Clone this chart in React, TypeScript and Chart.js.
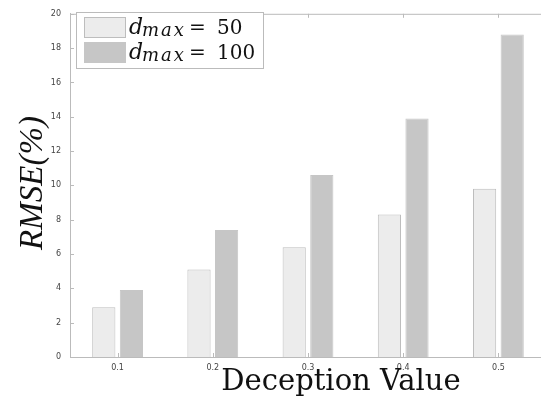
import React, { useEffect, useRef } from "react";
import { Chart, registerables } from "chart.js";

Chart.register(...registerables);

const categories = ["0.1", "0.2", "0.3", "0.4", "0.5"];
const seriesD50 = [2.9, 5.1, 6.4, 8.3, 9.8];
const seriesD100 = [3.9, 7.4, 10.6, 13.9, 18.8];
const legendLabels = ["50", "100"];
const yTitle = "RMSE(%)";
const xTitle = "Deception Value";

const LIGHT = "#ececec";
const LIGHT_BORDER = "#bdbdbd";
const DARK = "#c6c6c6";
const AXIS = "#bbbbbb";

const decorPlugin = {
  id: "decor",
  afterDraw(chart: any) {
    const { ctx, chartArea } = chart;
    const { left, right, top, bottom } = chartArea;
    ctx.save();
    // box lines
    ctx.strokeStyle = AXIS;
    ctx.lineWidth = 1;
    ctx.beginPath();
    ctx.moveTo(left + 0.5, top + 0.5);
    ctx.lineTo(right, top + 0.5);
    ctx.moveTo(right - 0.5, top);
    ctx.lineTo(right - 0.5, bottom);
    ctx.stroke();
    // inward ticks
    const ys = chart.scales.y;
    const xs = chart.scales.x;
    ctx.beginPath();
    ys.ticks.forEach((t: any) => {
      const py = Math.round(ys.getPixelForValue(t.value)) + 0.5;
      ctx.moveTo(left, py);
      ctx.lineTo(left + 4, py);
    });
    categories.forEach((_, i) => {
      const px = Math.round(xs.getPixelForValue(i)) + 0.5;
      ctx.moveTo(px, bottom);
      ctx.lineTo(px, bottom - 4);
      ctx.moveTo(px, top);
      ctx.lineTo(px, top + 4);
    });
    ctx.stroke();

    // legend
    const lx = 76, ly = 12, lw = 187, lh = 56;
    ctx.fillStyle = "#ffffff";
    ctx.fillRect(lx, ly, lw, lh);
    ctx.strokeStyle = AXIS;
    ctx.strokeRect(lx + 0.5, ly + 0.5, lw, lh);
    const rows = [
      { fill: LIGHT, border: LIGHT_BORDER, label: legendLabels[0], y: 17 },
      { fill: DARK, border: DARK, label: legendLabels[1], y: 42 },
    ];
    rows.forEach((r) => {
      ctx.fillStyle = r.fill;
      ctx.fillRect(84, r.y, 41, 20);
      ctx.strokeStyle = r.border;
      ctx.strokeRect(84.5, r.y + 0.5, 41, 20);
      const base = r.y + 17;
      ctx.fillStyle = "#111";
      ctx.textBaseline = "alphabetic";
      ctx.textAlign = "left";
      ctx.font = "italic 22px 'DejaVu Serif', serif";
      (ctx as any).letterSpacing = "0px";
      ctx.fillText("d", 129, base);
      ctx.font = "italic 18px 'DejaVu Serif', serif";
      (ctx as any).letterSpacing = "2px";
      ctx.fillText("max", 142, base + 2);
      (ctx as any).letterSpacing = "0px";
      ctx.font = "20px 'DejaVu Serif', serif";
      ctx.fillText("=", 189, base);
      ctx.fillText(r.label, 217, base);
    });

    // axis titles
    ctx.fillStyle = "#111";
    ctx.font = "29px 'DejaVu Serif', serif";
    ctx.textAlign = "center";
    ctx.textBaseline = "alphabetic";
    ctx.fillText(xTitle, 341, 390);
    ctx.save();
    ctx.translate(42, 183);
    ctx.rotate(-Math.PI / 2);
    ctx.font = "italic 33px 'Liberation Serif', serif";
    ctx.fillText(yTitle, 0, 0);
    ctx.restore();
    ctx.restore();
  },
};

export default function App() {
  const ref = useRef<HTMLCanvasElement>(null);
  useEffect(() => {
    if (!ref.current) return;
    const chart = new Chart(ref.current, {
      type: "bar",
      data: {
        labels: categories,
        datasets: [
          {
            label: "d_max = 50",
            data: seriesD50,
            backgroundColor: LIGHT,
            borderColor: LIGHT_BORDER,
            borderWidth: 1,
            barPercentage: 0.84,
            categoryPercentage: 0.58,
          },
          {
            label: "d_max = 100",
            data: seriesD100,
            backgroundColor: DARK,
            borderColor: DARK,
            borderWidth: 1,
            barPercentage: 0.84,
            categoryPercentage: 0.58,
          },
        ],
      },
      options: {
        animation: false,
        responsive: false,
        maintainAspectRatio: false,
        layout: { padding: { left: 0, top: 10, right: 14, bottom: 0 } },
        plugins: { legend: { display: false }, tooltip: { enabled: false } },
        scales: {
          x: {
            grid: { display: false, drawTicks: false },
            border: { color: AXIS },
            ticks: {
              color: "#444",
              font: { size: 8, family: "'DejaVu Sans', sans-serif" },
              padding: 6,
            },
            afterFit(scale: any) {
              scale.height = 43;
            },
          },
          y: {
            min: 0,
            max: 20,
            grid: { display: false, drawTicks: false },
            border: { color: AXIS },
            ticks: {
              stepSize: 2,
              color: "#444",
              font: { size: 8, family: "'DejaVu Sans', sans-serif" },
              padding: 9,
            },
            afterFit(scale: any) {
              scale.width = 70;
            },
          },
        },
      },
      plugins: [decorPlugin],
    });
    return () => chart.destroy();
  }, []);
  return (
    <div
      style={{
        position: "fixed",
        left: 0,
        top: 0,
        width: 541,
        height: 400,
        overflow: "hidden",
        background: "#fff",
      }}
    >
      <canvas ref={ref} width={560} height={400} style={{ width: 560, height: 400 }} />
    </div>
  );
}
